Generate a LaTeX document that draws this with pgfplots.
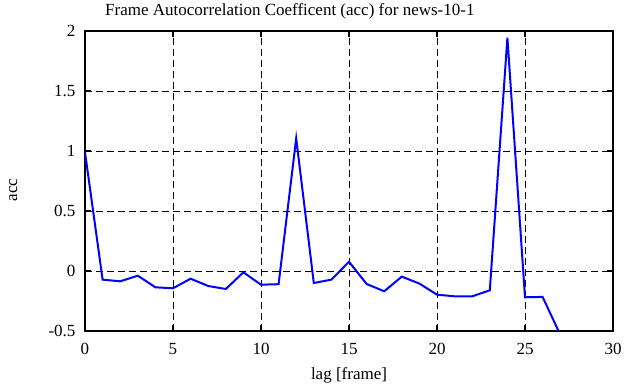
\documentclass[border=0pt]{standalone}
\usepackage{fontspec}
\setmainfont{Liberation Serif}
\usepackage{pgfplots}
\pgfplotsset{compat=1.18}
\begin{document}
\begin{tikzpicture}
\useasboundingbox (-85bp,-56bp) rectangle (539bp,331bp);
\begin{axis}[
  scale only axis,
  width=528bp, height=300bp,
  xmin=0, xmax=30, ymin=-0.5, ymax=2,
  xtick={0,5,...,30},
  ytick={-0.5,0,0.5,1,1.5,2},
  yticklabels={-0.5,0,0.5,1,1.5,2},
  /pgf/number format/assume math mode=true,
  font=\fontsize{17bp}{20bp}\selectfont,
  tick align=inside,
  xtick pos=both, ytick pos=both,
  major tick length=6bp,
  axis line style={line width=1.6bp, black},
  every tick/.style={black, line width=1.2bp},
  grid=major,
  major grid style={black, line width=0.9bp, dash pattern=on 7bp off 4bp},
  clip=true,
  xticklabel style={yshift=-9bp},
  yticklabel style={xshift=-6bp},
  title={Frame Autocorrelation Coefficent (acc) for news-10-1},
  title style={at={(axis description cs:0.388,1.046)}, anchor=center, inner sep=0pt},
  xlabel={lag [frame]},
  xlabel style={at={(axis description cs:0.5,-0.148)}, anchor=center, inner sep=0pt},
  ylabel={acc},
  ylabel style={at={(axis description cs:-0.136,0.47)}, anchor=center, inner sep=0pt},
]
\addplot[blue, line width=2bp, mark=none] coordinates {
(0,0.99) (1,-0.072) (2,-0.086) (3,-0.039) (4,-0.136) (5,-0.144)
(6,-0.064) (7,-0.125) (8,-0.15) (9,-0.011) (10,-0.114) (11,-0.11)
(12,1.105) (13,-0.10) (14,-0.072) (15,0.077) (16,-0.108) (17,-0.169)
(18,-0.047) (19,-0.105) (20,-0.197) (21,-0.211) (22,-0.211) (23,-0.161)
(24,1.944) (25,-0.219) (26,-0.216) (27,-0.53) (28,-0.85)
};
\end{axis}
\end{tikzpicture}
\end{document}
